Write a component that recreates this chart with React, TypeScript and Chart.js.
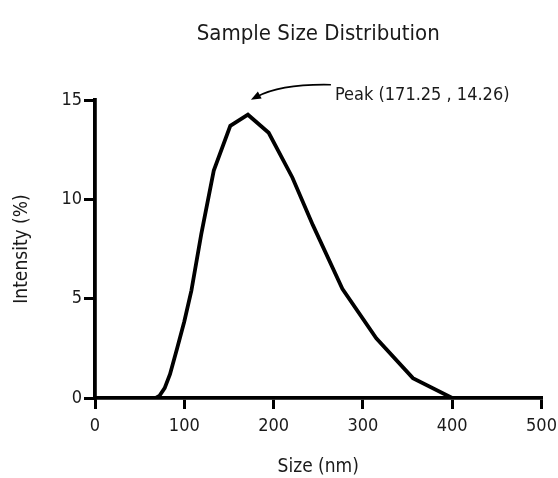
import React, { useEffect, useRef } from "react";
import { Chart, registerables } from "chart.js";

Chart.register(...registerables);

// ---- data ----
const sizesNm: number[] = [0, 68, 72, 78, 84, 92, 100, 108, 119, 133, 151.5, 171.25, 194.5, 221, 244, 277, 315, 356, 400, 500];
const intensityPct: number[] = [0, 0, 0.1, 0.5, 1.2, 2.5, 3.85, 5.42, 8.25, 11.45, 13.7, 14.26, 13.35, 11.1, 8.7, 5.5, 3.0, 1.0, 0, 0];
const xTicks: number[] = [0, 100, 200, 300, 400, 500];
const yTicks: number[] = [0, 5, 10, 15];
const peakX = 171.25;
const peakY = 14.26;
const chartTitle = "Sample Size Distribution";
const xTitle = "Size (nm)";
const yTitle = "Intensity (%)";
const peakLabel = `Peak (${peakX.toFixed(2)} , ${peakY.toFixed(2)})`;

const FONT = "'DejaVu Sans Condensed', 'DejaVu Sans', sans-serif";
const TEXT = "#1a1a1a";

const overlayPlugin = {
  id: "overlay",
  afterDraw(chart: any) {
    const { ctx, chartArea, scales } = chart;
    ctx.save();
    // main title centred over the plot area
    ctx.fillStyle = TEXT;
    ctx.font = `22px ${FONT}`;
    ctx.textAlign = "center";
    ctx.textBaseline = "alphabetic";
    ctx.fillText(chartTitle, (chartArea.left + chartArea.right) / 2, 40);

    // peak annotation
    const px = scales.x.getPixelForValue(peakX);
    const py = scales.y.getPixelForValue(peakY);
    const tip = { x: px + 3, y: py - 15 };
    const start = { x: px + 83, y: py - 30 };
    const ctrl = { x: px + 33, y: py - 31 };
    ctx.strokeStyle = "#000";
    ctx.lineWidth = 1.6;
    ctx.beginPath();
    ctx.moveTo(start.x, start.y);
    ctx.quadraticCurveTo(ctrl.x, ctrl.y, tip.x + 6, tip.y - 3);
    ctx.stroke();
    const ang = Math.atan2(tip.y - ctrl.y, tip.x - ctrl.x);
    const L = 10, W = 4;
    ctx.fillStyle = "#000";
    ctx.beginPath();
    ctx.moveTo(tip.x, tip.y);
    ctx.lineTo(tip.x - L * Math.cos(ang) + W * Math.sin(ang), tip.y - L * Math.sin(ang) - W * Math.cos(ang));
    ctx.lineTo(tip.x - L * Math.cos(ang) - W * Math.sin(ang), tip.y - L * Math.sin(ang) + W * Math.cos(ang));
    ctx.closePath();
    ctx.fill();

    ctx.fillStyle = TEXT;
    ctx.font = `18px ${FONT}`;
    ctx.textAlign = "left";
    ctx.textBaseline = "alphabetic";
    ctx.fillText(peakLabel, px + 87, py - 15);
    ctx.restore();
  },
};

export default function App() {
  const canvasRef = useRef<HTMLCanvasElement | null>(null);

  useEffect(() => {
    document.body.style.margin = "0";
    const canvas = canvasRef.current;
    if (!canvas) return;
    const chart = new Chart(canvas, {
      type: "line",
      data: {
        datasets: [
          {
            data: sizesNm.map((x, i) => ({ x, y: intensityPct[i] })),
            borderColor: "#000",
            borderWidth: 3.8,
            pointRadius: 0,
            tension: 0,
            fill: false,
            borderJoinStyle: "miter",
          },
        ],
      },
      options: {
        responsive: false,
        animation: false,
        devicePixelRatio: 1,
        layout: { padding: { top: 100, left: 0, right: 16.5, bottom: 0 } },
        plugins: {
          legend: { display: false },
          tooltip: { enabled: false },
          title: { display: false },
        },
        scales: {
          x: {
            type: "linear",
            min: 0,
            max: 500,
            afterFit: (s: any) => { s.height = 80; s.paddingLeft = 0; s.paddingRight = 0; },
            afterBuildTicks: (s: any) => { s.ticks = xTicks.map((v) => ({ value: v })); },
            grid: { drawOnChartArea: false, drawTicks: true, tickLength: 11, tickWidth: 3, tickColor: "#000", lineWidth: 3 },
            border: { display: true, color: "#000", width: 3.8 },
            ticks: { color: TEXT, font: { family: FONT, size: 18 }, padding: 7, maxRotation: 0 },
            title: { display: true, text: xTitle, color: TEXT, font: { family: FONT, size: 19, lineHeight: 1 }, padding: { top: 0, bottom: 1 } },
          },
          y: {
            min: 0,
            max: 15,
            afterFit: (s: any) => { s.width = 95; s.paddingTop = 0; s.paddingBottom = 0; },
            afterBuildTicks: (s: any) => { s.ticks = yTicks.map((v) => ({ value: v })); },
            grid: { drawOnChartArea: false, drawTicks: true, tickLength: 11, tickWidth: 3, tickColor: "#000", lineWidth: 3 },
            border: { display: true, color: "#000", width: 3.8 },
            ticks: { color: TEXT, font: { family: FONT, size: 18 }, padding: 2 },
            title: { display: true, text: yTitle, color: TEXT, font: { family: FONT, size: 19, lineHeight: 1 }, padding: { top: 13, bottom: 0 } },
          },
        },
      },
      plugins: [overlayPlugin],
    } as any);
    return () => chart.destroy();
  }, []);

  return <canvas ref={canvasRef} width={558} height={478} style={{ display: "block" }} />;
}
